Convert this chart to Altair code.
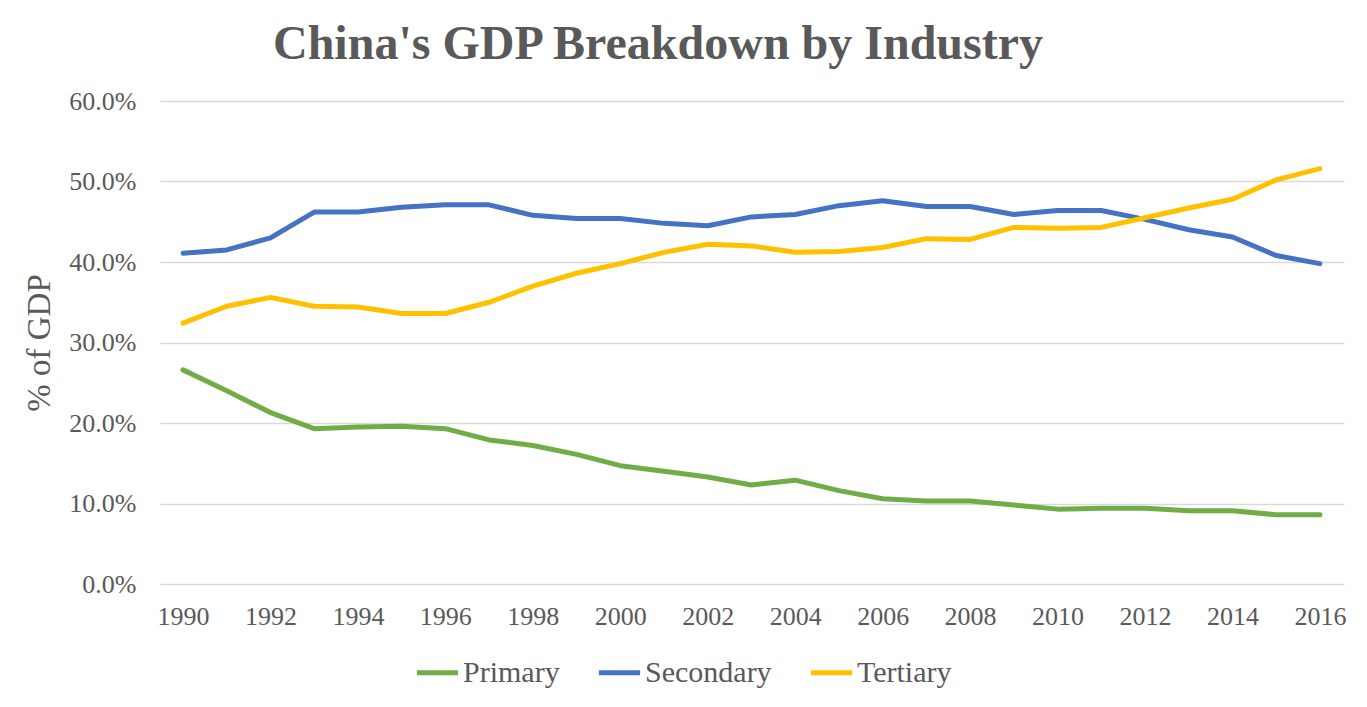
import altair as alt
import pandas as pd

years = list(range(1990, 2017))
primary = [26.6, 24.0, 21.3, 19.3, 19.5, 19.6, 19.3, 17.9, 17.2, 16.1, 14.7, 14.0, 13.3, 12.3,
           12.9, 11.6, 10.6, 10.3, 10.3, 9.8, 9.3, 9.4, 9.4, 9.1, 9.1, 8.6, 8.6]
secondary = [41.1, 41.5, 43.0, 46.2, 46.2, 46.8, 47.1, 47.1, 45.8, 45.4, 45.4, 44.8, 44.5, 45.6,
             45.9, 47.0, 47.6, 46.9, 46.9, 45.9, 46.4, 46.4, 45.3, 44.0, 43.1, 40.8, 39.8]
tertiary = [32.4, 34.5, 35.6, 34.5, 34.4, 33.6, 33.6, 35.0, 37.0, 38.6, 39.8, 41.2, 42.2, 42.0,
            41.2, 41.3, 41.8, 42.9, 42.8, 44.3, 44.2, 44.3, 45.5, 46.7, 47.8, 50.2, 51.6]
series_names = ["Primary", "Secondary", "Tertiary"]
series_colors = ["#70AD47", "#4472C4", "#FFC000"]
x_ticks = list(range(1990, 2017, 2))
y_ticks = [0, 10, 20, 30, 40, 50, 60]

rows = []
for name, vals in zip(series_names, [primary, secondary, tertiary]):
    for y, v in zip(years, vals):
        rows.append({"Year": y, "Share": v, "Sector": name})
df = pd.DataFrame(rows)

font = "Liberation Serif"
text_color = "#595959"

chart = alt.Chart(df).mark_line(strokeWidth=5, strokeJoin="round", strokeCap="round").encode(
    x=alt.X("Year:Q",
            scale=alt.Scale(domain=[1989.474, 2016.55], nice=False, zero=False),
            axis=alt.Axis(values=x_ticks, format="d", title=None, grid=False, domain=False,
                          ticks=False, labelFontSize=26, labelFont=font, labelColor=text_color,
                          labelPadding=19, labelFlush=False)),
    y=alt.Y("Share:Q",
            scale=alt.Scale(domain=[0, 60], nice=False),
            axis=alt.Axis(values=y_ticks, labelExpr="format(datum.value, '.1f') + '%'",
                          title="% of GDP", titleFont=font, titleFontSize=33,
                          titleFontWeight="normal", titleColor=text_color, titlePadding=12,
                          grid=True, gridColor="#D9D9D9", gridWidth=1.5, domain=False,
                          ticks=False, labelFontSize=26, labelFont=font, labelColor=text_color,
                          labelPadding=24)),
    color=alt.Color("Sector:N",
                    scale=alt.Scale(domain=series_names, range=series_colors),
                    legend=alt.Legend(title=None, orient="none", direction="horizontal",
                                      legendX=254, legendY=548, symbolType="stroke",
                                      symbolStrokeWidth=5, symbolSize=1700,
                                      labelFont=font, labelFontSize=30, labelColor=text_color,
                                      labelOffset=2, columnPadding=28, symbolOffset=0)),
).properties(
    width=1184,
    height=483,
    title=alt.TitleParams("China's GDP Breakdown by Industry", font=font, fontSize=48,
                          fontWeight="bold", color=text_color, anchor="middle", dx=-94,
                          offset=19),
    autosize=alt.AutoSizeParams(type="none"),
    padding={"left": 152, "top": 93, "right": 15, "bottom": 110},
).configure_view(stroke=None)

chart.save("out.html", embed_options={"renderer": "svg", "actions": False})
